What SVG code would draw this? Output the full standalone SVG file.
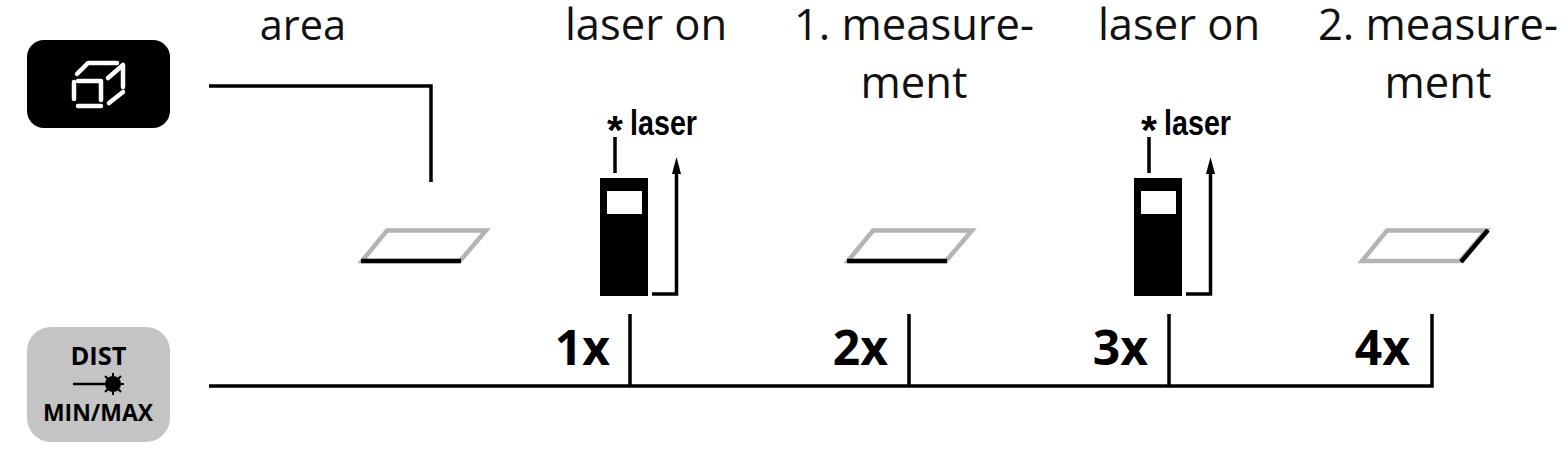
<svg xmlns="http://www.w3.org/2000/svg" width="1568" height="460" viewBox="0 0 1568 460">
<style>
.h{font-family:"Open Sans","Noto Sans",sans-serif;font-size:43.500px;fill:#111;text-anchor:middle}
.x{font-family:"Open Sans","Noto Sans",sans-serif;font-size:48px;font-weight:700;fill:#000;text-anchor:end}
.l{font-family:"Liberation Sans",sans-serif;font-size:35px;font-weight:700;fill:#000}
.k{font-family:"Open Sans","Noto Sans",sans-serif;font-weight:700;fill:#000;text-anchor:middle}
.w{fill:none;stroke:#000;stroke-width:3.500}
.g{fill:none;stroke:#b4b4b4;stroke-width:4.500}
.b{fill:none;stroke:#000;stroke-width:4.500}
.ic{fill:none;stroke:#fff;stroke-width:4.500;stroke-linecap:round;stroke-linejoin:round}
</style>
<defs>
<g id="pl"><path class="g" d="M362 261L387 230.500H486L460 261Z"/></g>
<g id="dev"><rect x="600" y="178" width="48" height="118" fill="#000"/><rect x="607" y="191" width="35" height="23" fill="#fff"/>
<path class="w" d="M615 173V137"/>
<path class="w" d="M652 294H676.500V172"/><path d="M672 174L676.500 157L681 174Z" fill="#000"/>
<text class="l" x="607" y="144" style="font-size:41px">*</text><text class="l" x="630" y="135" textLength="67" lengthAdjust="spacingAndGlyphs">laser</text></g>
</defs>
<g id="key-area"><rect x="27" y="40" width="143" height="88" rx="17" fill="#000"/>
<path class="ic" d="M77 74L88 63H117M108 78L123 65V87M109 103L123 92M74 82V99M78 106H101M78 81H101V100"/></g>
<g id="key-dist"><rect x="27" y="327" width="143" height="115" rx="24" fill="#c4c4c4"/>
<text class="k" x="98.500" y="365" font-size="25.500">DIST</text>
<path d="M73 384H105" stroke="#000" stroke-width="2.500"/><circle cx="113" cy="384" r="8" fill="#000"/>
<path d="M113 373V395M102 384H124M105 376L121 392M121 376L105 392" stroke="#000" stroke-width="2"/>
<text class="k" x="98" y="421" font-size="24" textLength="110" lengthAdjust="spacingAndGlyphs">MIN/MAX</text></g>
<g id="connectors">
<path class="w" d="M209 86H431V182"/>
<path class="w" d="M209 386H1432V314M630 386V314M909 386V314M1169 386V314"/>
</g>
<g id="step-area"><text class="h" x="303" y="40" style="font-size:41.500px">area</text><use href="#pl"/><path class="b" d="M361 261H461"/></g>
<g id="step-laser1"><text class="h" x="646" y="40">laser on</text><use href="#dev"/><text class="x" x="610" y="365">1x</text></g>
<g id="step-m1"><text class="h" x="914" y="40">1. measure-</text><text class="h" x="914" y="98">ment</text><use href="#pl" x="486"/><path class="b" d="M847 261H947"/><text class="x" x="888" y="365">2x</text></g>
<g id="step-laser2"><text class="h" x="1179" y="40">laser on</text><use href="#dev" x="534"/><text class="x" x="1148" y="365">3x</text></g>
<g id="step-m2"><text class="h" x="1438" y="40">2. measure-</text><text class="h" x="1438" y="98">ment</text><use href="#pl" x="1000"/><path class="b" d="M1461 262L1488 230"/><text class="x" x="1410" y="365">4x</text></g>
</svg>
